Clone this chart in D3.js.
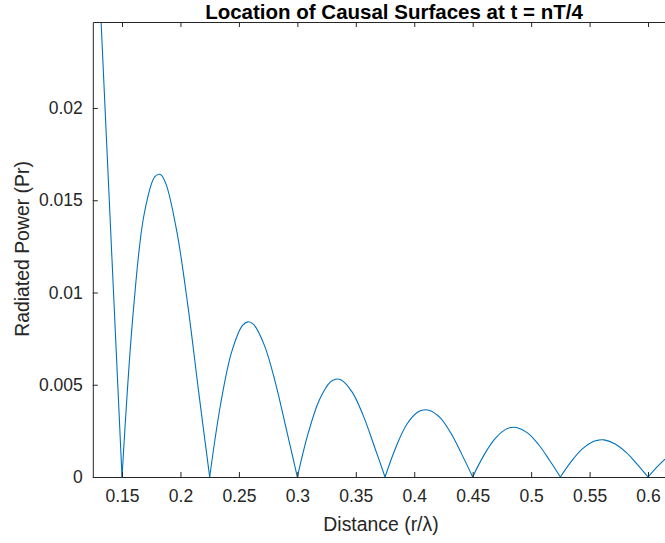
<!DOCTYPE html>
<html>
<head>
<meta charset="utf-8">
<script src="https://cdn.jsdelivr.net/npm/d3@7"></script>
<style>
  html, body { margin: 0; padding: 0; background: #fff; }
  svg { display: block; font-family: "Liberation Sans", Arial, Helvetica, sans-serif; }
</style>
</head>
<body>
<svg id="chart" width="665" height="543"></svg>
<script>
// ---- data ----
const distance = [
  0.125, 0.1375, 0.15,
  0.1594, 0.1688, 0.1781, 0.1828, 0.1875, 0.1969, 0.2063, 0.2156, 0.225,
  0.2344, 0.2438, 0.2531, 0.2578, 0.2625, 0.2719, 0.2813, 0.2906, 0.3,
  0.3094, 0.3188, 0.3281, 0.3328, 0.3375, 0.3469, 0.3563, 0.3656, 0.375,
  0.3844, 0.3938, 0.4031, 0.4078, 0.4125, 0.4219, 0.4313, 0.4406, 0.45,
  0.4594, 0.4688, 0.4781, 0.4828, 0.4875, 0.4969, 0.5063, 0.5156, 0.525,
  0.5344, 0.5438, 0.5531, 0.5578, 0.5625, 0.5719, 0.5813, 0.5906, 0.6,
  0.6094, 0.6188, 0.6281, 0.6375, 0.6469, 0.6563, 0.6656, 0.675
];
const power = [
  0.0345, 0.0172, 0,
  0.0088, 0.0142, 0.01628, 0.0164, 0.0159, 0.0133, 0.0093, 0.0046, 0,
  0.00397, 0.00678, 0.00822, 0.00841, 0.00827, 0.00712, 0.00509, 0.00258, 0,
  0.0024, 0.00417, 0.00514, 0.0053, 0.00526, 0.0046, 0.00334, 0.00171, 0,
  0.00163, 0.00287, 0.00352, 0.00363, 0.00362, 0.00323, 0.00238, 0.00124, 0,
  0.00116, 0.00205, 0.00258, 0.00268, 0.00268, 0.00239, 0.00176, 0.00092, 0,
  0.00085, 0.00152, 0.00192, 0.002, 0.00201, 0.00179, 0.00133, 0.0007, 0,
  0.00066, 0.00118, 0.0015, 0.00157, 0.00141, 0.00105, 0.00055, 0
];
const xTicks = [0.15, 0.2, 0.25, 0.3, 0.35, 0.4, 0.45, 0.5, 0.55, 0.6];
const xTickLabels = ["0.15", "0.2", "0.25", "0.3", "0.35", "0.4", "0.45", "0.5", "0.55", "0.6"];
const yTicks = [0, 0.005, 0.01, 0.015, 0.02];
const yTickLabels = ["0", "0.005", "0.01", "0.015", "0.02"];
const titleText = "Location of Causal Surfaces at t = nT/4";
const xLabelText = "Distance (r/\u03BB)";
const yLabelText = "Radiated Power (Pr)";

(function () {
  // ---- layout ----
  const W = 665, H = 543;
  const plotLeft = 92.8, plotTop = 22, plotBottom = 477;
  const xMin = 0.125, xMax = 0.7, yMin = 0, yMax = 0.02466;
  const plotRight = plotLeft + (xMax - xMin) * 1168.9;
  const axisColor = "#262626";
  const lineColor = "#0072BD";

  const svg = d3.select("#chart");
  svg.append("rect").attr("width", W).attr("height", H).attr("fill", "#fff");

  const x = d3.scaleLinear().domain([xMin, xMax]).range([plotLeft, plotRight]);
  const y = d3.scaleLinear().domain([yMin, yMax]).range([plotBottom, plotTop]);

  svg.append("clipPath").attr("id", "plotclip")
    .append("rect").attr("x", plotLeft).attr("y", plotTop)
    .attr("width", plotRight - plotLeft).attr("height", plotBottom - plotTop);

  // split into lobes at zero points so cusps stay sharp
  const pts = distance.map((d, i) => [d, power[i]]);
  const lobes = [];
  let cur = [];
  pts.forEach(p => {
    cur.push(p);
    if (p[1] === 0 && cur.length > 1) { lobes.push(cur); cur = [p]; }
  });
  if (cur.length > 1) lobes.push(cur);

  const line = d3.line().x(d => x(d[0])).y(d => y(d[1])).curve(d3.curveCatmullRom.alpha(0.5));
  svg.append("g").attr("clip-path", "url(#plotclip)")
    .selectAll("path").data(lobes).join("path")
    .attr("d", line)
    .attr("fill", "none")
    .attr("stroke", lineColor)
    .attr("stroke-width", 1.1)
    .attr("stroke-linejoin", "round");

  const tickFs = 17.5;
  const labelFs = 19.4;
  function styleAxis(g) {
    g.select(".domain").attr("stroke", axisColor).attr("stroke-width", 1);
    g.selectAll(".tick line").attr("stroke", axisColor).attr("stroke-width", 1);
    g.selectAll(".tick text").attr("fill", axisColor).attr("font-size", tickFs)
      .attr("font-family", "Liberation Sans, Arial, sans-serif");
  }

  svg.append("g").attr("transform", `translate(0,${plotBottom})`)
    .call(d3.axisBottom(x).tickValues(xTicks).tickFormat((d, i) => xTickLabels[i])
      .tickSizeInner(-5).tickSizeOuter(0).tickPadding(13))
    .call(styleAxis);

  svg.append("g").attr("transform", `translate(0,${plotTop})`)
    .call(d3.axisTop(x).tickValues(xTicks).tickFormat("")
      .tickSizeInner(-5).tickSizeOuter(0))
    .call(styleAxis);

  svg.append("g").attr("transform", `translate(${plotLeft},0)`)
    .call(d3.axisLeft(y).tickValues(yTicks).tickFormat((d, i) => yTickLabels[i])
      .tickSizeInner(-5).tickSizeOuter(0).tickPadding(10))
    .call(styleAxis);

  svg.append("text").attr("x", 394).attr("y", 19)
    .attr("text-anchor", "middle").attr("font-weight", "bold").attr("font-size", 20.5)
    .attr("fill", "#000").text(titleText);

  svg.append("text").attr("x", 381).attr("y", 531)
    .attr("text-anchor", "middle").attr("font-size", labelFs)
    .attr("fill", axisColor).text(xLabelText);

  svg.append("text").attr("transform", `translate(29,249) rotate(-90)`)
    .attr("text-anchor", "middle").attr("font-size", labelFs)
    .attr("fill", axisColor).text(yLabelText);
})();
</script>
</body>
</html>
